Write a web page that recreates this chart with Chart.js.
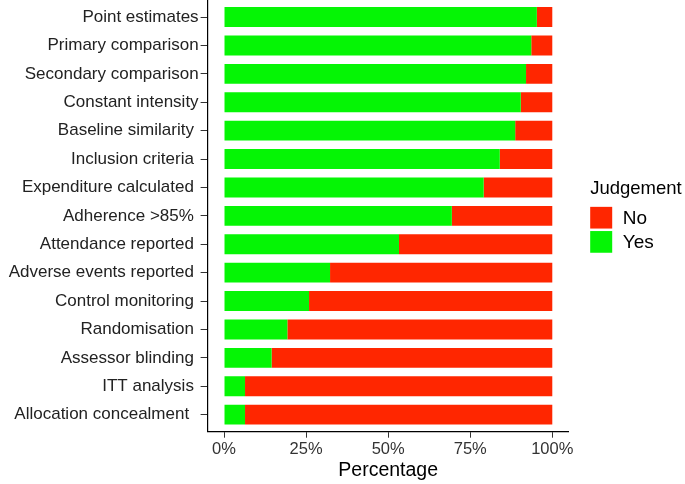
<!DOCTYPE html>
<html lang="en">
<head>
  <meta charset="UTF-8">
  <title>Judgement per item</title>
  <script src="https://cdn.jsdelivr.net/npm/chart.js"></script>
  <style>
    body { margin: 0; background: #fff; }
  </style>
</head>
<body>
  <canvas id="canvas" width="685" height="484"></canvas>

  <script>
    // items from top to bottom (some labels carry a trailing space, as in the source figure)
    const items = [
      "Point estimates", "Primary comparison", "Secondary comparison",
      "Constant intensity", "Baseline similarity ", "Inclusion criteria ",
      "Expenditure calculated ", "Adherence >85% ", "Attendance reported ",
      "Adverse events reported ", "Control monitoring ", "Randomisation ",
      "Assessor blinding ", "ITT analysis ", "Allocation concealment  "
    ];
    const yesPct = [95.3, 93.6, 92.0, 90.4, 88.7, 84.0, 79.1, 69.4, 53.3, 32.3, 25.9, 19.3, 14.5, 6.4, 6.4];
    const noPct = [4.7, 6.4, 8.0, 9.6, 11.3, 16.0, 20.9, 30.6, 46.7, 67.7, 74.1, 80.7, 85.5, 93.6, 93.6];
    const xTicks = [0, 25, 50, 75, 100];

    const font = "'Liberation Sans', Arial, sans-serif";
    Chart.defaults.font.family = font;

    const toPoints = arr => arr.map((v, i) => ({ x: v, y: i + 1 }));

    const data = {
      datasets: [
        { label: "Yes", data: toPoints(yesPct), backgroundColor: "#05F505" },
        { label: "No", data: toPoints(noPct), backgroundColor: "#FF2600" }
      ]
    };

    // ggplot-style legend drawn to the right of the panel, No above Yes
    const sideLegend = {
      id: "sideLegend",
      afterDraw(chart) {
        const ctx = chart.ctx;
        const area = chart.chartArea;
        const c = (area.top + area.bottom) / 2;
        const x = area.right + 21.5;
        ctx.save();
        ctx.fillStyle = "#000";
        ctx.font = "18.5px " + font;
        ctx.textBaseline = "alphabetic";
        ctx.textAlign = "left";
        ctx.fillText("Judgement", x, c - 22);
        ctx.font = "19px " + font;
        ctx.textBaseline = "middle";
        const order = chart.data.datasets.slice().reverse();
        order.forEach((ds, i) => {
          const top = c - 9 + i * 24.2;
          ctx.fillStyle = ds.backgroundColor;
          ctx.fillRect(x, top, 22, 21.7);
          ctx.fillStyle = "#000";
          ctx.fillText(ds.label, x + 32.5, top + 11.8);
        });
        ctx.restore();
      }
    };

    const options = {
      responsive: false,
      animation: false,
      indexAxis: "y",
      layout: { padding: { left: 0, right: 116.3, top: 0, bottom: 0 } },
      datasets: { bar: { barPercentage: 0.7, categoryPercentage: 1 } },
      plugins: {
        tooltip: { enabled: false },
        legend: { display: false }
      },
      scales: {
        x: {
          type: "linear",
          stacked: true,
          min: -5,
          max: 105,
          afterBuildTicks: axis => { axis.ticks = xTicks.map(v => ({ value: v })); },
          afterFit: axis => { axis.height = 52.3; },
          ticks: {
            callback: v => v + "%",
            color: "#333",
            font: { size: 16.5 },
            padding: 2,
            maxRotation: 0
          },
          grid: { drawOnChartArea: false, tickLength: 6, color: "#333" },
          border: { display: true, color: "#000", width: 1.2 },
          title: {
            display: true,
            text: "Percentage",
            color: "#000",
            font: { size: 19.5 },
            padding: { top: 0, bottom: 2 }
          }
        },
        y: {
          type: "linear",
          stacked: true,
          reverse: true,
          offset: false,
          min: 0.4,
          max: 15.6,
          afterBuildTicks: axis => { axis.ticks = items.map((_, i) => ({ value: i + 1 })); },
          afterFit: axis => {
            axis.width = 207.6;
            axis.paddingTop = 0;
            axis.paddingBottom = 0;
          },
          ticks: {
            callback: v => items[v - 1],
            color: "#222",
            font: { size: 17 },
            padding: 2,
            autoSkip: false
          },
          grid: { drawOnChartArea: false, offset: false, tickLength: 7, color: "#333" },
          border: { display: true, color: "#000", width: 1.2 }
        }
      }
    };

    new Chart(document.getElementById("canvas").getContext("2d"), {
      type: "bar",
      data: data,
      options: options,
      plugins: [sideLegend]
    });
  </script>
</body>
</html>
